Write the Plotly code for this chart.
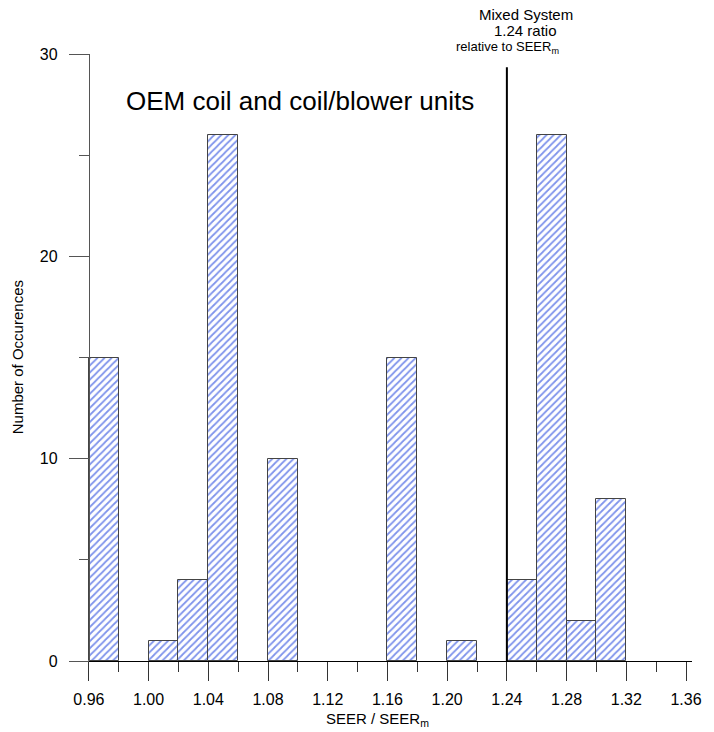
import plotly.graph_objects as go

# Data: histogram bins (left edges, width 0.02) and counts
bin_left = [0.96, 1.00, 1.02, 1.04, 1.08, 1.16, 1.20, 1.24, 1.26, 1.28, 1.30]
counts = [15, 1, 4, 26, 10, 15, 1, 4, 26, 2, 8]
bin_width = 0.02
mixed_ratio = 1.24
y_ticks = [0, 10, 20, 30]
x_ticks = [0.96, 1.00, 1.04, 1.08, 1.12, 1.16, 1.20, 1.24, 1.28, 1.32, 1.36]

FONT = "Liberation Sans, Arial, sans-serif"
x_range = [0.9467, 1.364]

centers = [b + bin_width / 2 for b in bin_left]

fig = go.Figure()
fig.add_trace(go.Bar(
    x=centers, y=counts, width=bin_width,
    marker=dict(
        color="white",
        line=dict(color="#444444", width=1),
        pattern=dict(shape="/", fgcolor="#0028d8", bgcolor="white", size=5, solidity=0.35),
    ),
    showlegend=False,
))

fig.add_shape(type="line", xref="x", yref="y", x0=mixed_ratio, x1=mixed_ratio, y0=0, y1=29.35,
              line=dict(color="black", width=2))

ypos = (0.96 - x_range[0]) / (x_range[1] - x_range[0])

fig.update_layout(
    width=714, height=732,
    margin=dict(l=69, r=19, t=54, b=71),
    paper_bgcolor="white", plot_bgcolor="white",
    font=dict(family=FONT, size=16, color="black"),
    bargap=0,
    xaxis=dict(
        range=x_range, domain=[0, 1],
        tickmode="array", tickvals=x_ticks, ticktext=[f"{v:.2f}" for v in x_ticks],
        ticks="outside", ticklen=19, tickcolor="#333333", tickwidth=1,
        minor=dict(ticks="outside", ticklen=10, dtick=0.02, tick0=0.96, tickcolor="#333333", showgrid=False),
        showline=True, linecolor="black", linewidth=1,
        showgrid=False, zeroline=False,
        ticklabelstandoff=5,
        tickfont=dict(size=16),
        title=None,
    ),
    yaxis=dict(
        range=[0, 30], anchor="free", position=ypos,
        tickmode="array", tickvals=y_ticks,
        ticks="outside", ticklen=20, tickcolor="#555555", tickwidth=1,
        minor=dict(ticks="outside", ticklen=10, dtick=5, tick0=0, tickcolor="#555555", showgrid=False),
        showline=True, linecolor="#555555", linewidth=1,
        showgrid=False, zeroline=False,
        ticklabelstandoff=8,
        tickfont=dict(size=16),
        title=None,
    ),
)

annotations = [
    dict(text="Number of Occurences", x=17, y=357, textangle=-90, font=dict(size=15)),
    dict(text="SEER / SEER<sub>m</sub>", x=379, y=719, font=dict(size=15)),
    dict(text="OEM coil and coil/blower units", x=124, y=101, xanchor="left", font=dict(size=26)),
    dict(text="Mixed System", x=528, y=14, font=dict(size=15)),
    dict(text="1.24 ratio", x=528, y=31, font=dict(size=15)),
    dict(text="relative to SEER<sub>m</sub>", x=510, y=48, font=dict(size=13)),
]
for a in annotations:
    px, py = a.pop("x"), a.pop("y")
    fig.add_annotation(
        xref="paper", yref="paper",
        x=(px - 69) / 626, y=(661 - py) / 607,
        xanchor=a.pop("xanchor", "center"), yanchor="middle",
        showarrow=False, **a,
    )

fig.write_html("out.html")
